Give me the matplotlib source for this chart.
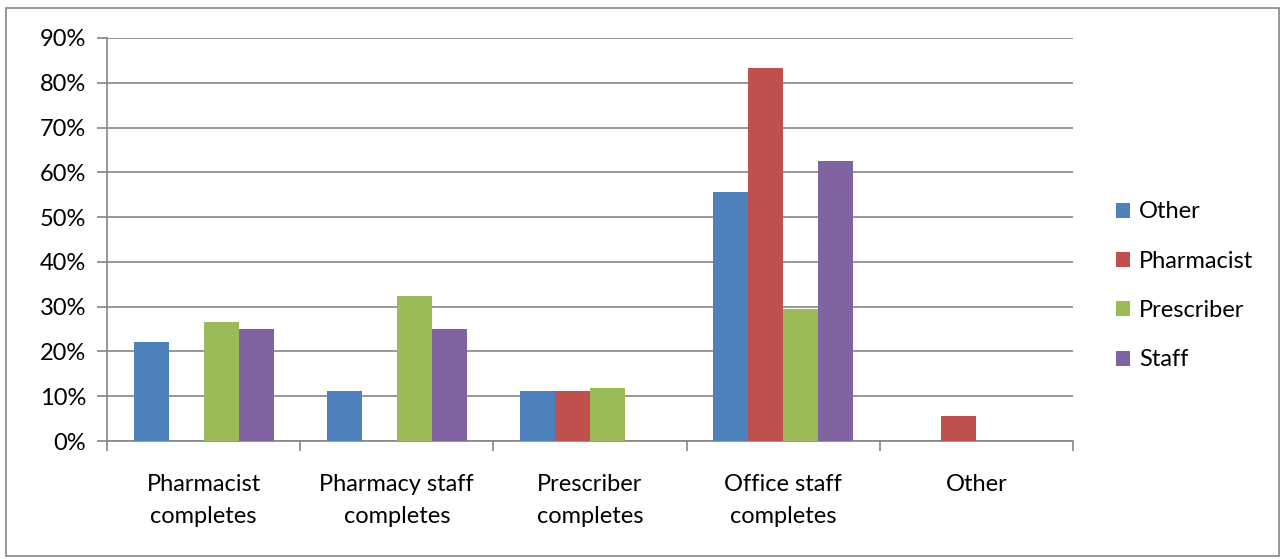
import numpy as np
import matplotlib.pyplot as plt
from matplotlib.patches import Rectangle

categories = ["Pharmacist\ncompletes", "Pharmacy staff\ncompletes", "Prescriber\ncompletes",
              "Office staff\ncompletes", "Other"]
series = ["Other", "Pharmacist", "Prescriber", "Staff"]
other = [22.2, 11.1, 11.1, 55.6, 0.0]
pharmacist = [0.0, 0.0, 11.1, 83.3, 5.6]
prescriber = [26.5, 32.4, 11.8, 29.4, 0.0]
staff = [25.0, 25.0, 0.0, 62.5, 0.0]
colors = ["#4F81BD", "#C0504D", "#9BBB59", "#8064A2"]
yticks = [0, 10, 20, 30, 40, 50, 60, 70, 80, 90]

plt.rcParams['font.family'] = ['Lato', 'DejaVu Sans']
grid_c = "#868686"
fs = 17

fig = plt.figure(figsize=(12.84, 5.59), dpi=100)
ax = fig.add_axes([107 / 1284, 1 - 441 / 559, (1073 - 107) / 1284, (441 - 38) / 559])

# outer chart border
fig.patches.append(Rectangle((6 / 1284, 3 / 559), 1273 / 1284, 548 / 559, transform=fig.transFigure,
                             fill=False, edgecolor=grid_c, linewidth=1.2))

x = np.arange(len(categories))
w = 0.181
for i, (vals, c) in enumerate(zip([other, pharmacist, prescriber, staff], colors)):
    ax.bar(x + (i - 1.5) * w, vals, width=w, color=c, label=series[i], zorder=3)

ax.set_xlim(-0.5, len(categories) - 0.5)
ax.set_ylim(0, 90)
ax.set_yticks(yticks)
ax.set_yticklabels([f"{t}%" for t in yticks], fontsize=fs)
ax.yaxis.grid(True, color=grid_c, linewidth=1.2, zorder=0)
ax.set_axisbelow(True)

ax.set_xticks(np.arange(-0.5, len(categories), 1.0))
ax.set_xticklabels([])
ax.set_xticks(x, minor=True)
ax.set_xticklabels(categories, minor=True, fontsize=fs, linespacing=1.65)
ax.tick_params(axis='x', which='minor', length=0, pad=24)
ax.tick_params(axis='x', which='major', length=7, color=grid_c, width=1.2)
ax.tick_params(axis='y', length=7, color=grid_c, width=1.2, pad=8)

for s in ["top", "right"]:
    ax.spines[s].set_visible(False)
for s in ["left", "bottom"]:
    ax.spines[s].set_color(grid_c)
    ax.spines[s].set_linewidth(1.2)

ax.legend(loc="center left", bbox_to_anchor=(1.022, 0.385), frameon=False, fontsize=fs,
          handlelength=0.6, handleheight=0.6, handletextpad=0.4, labelspacing=1.2)

fig.savefig("out.png", dpi=100)
